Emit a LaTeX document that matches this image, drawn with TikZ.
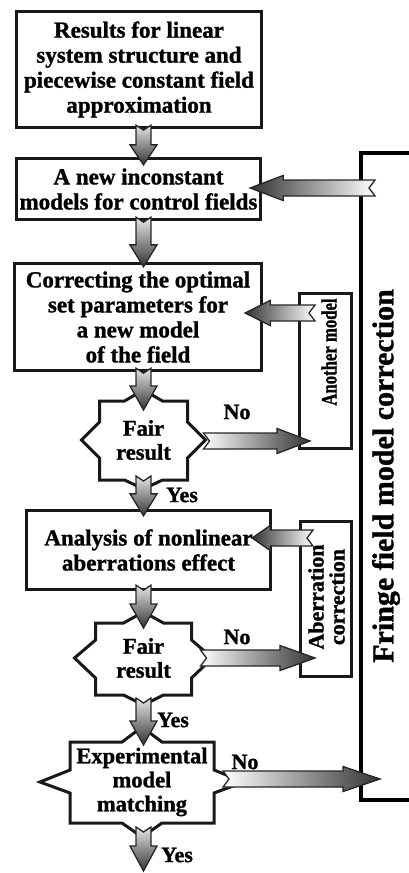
\documentclass[tikz,border=0pt]{standalone}
\usepackage{fontspec}
\setmainfont{Liberation Serif}[BoldFeatures={FakeBold=1.2}]
\usetikzlibrary{calc}
\definecolor{agdark}{gray}{0.2}
\definecolor{aglight}{gray}{0.9}
\tikzset{
 box/.style={draw=black!90, line width=3.3pt, inner sep=0pt, align=center, font=\bfseries\fontsize{23}{25}\selectfont},
 sidebox/.style={draw=black!90, line width=3pt, inner sep=0pt},
 dec/.style={draw=black!90, line width=3pt, line join=miter, fill=white},
 dtext/.style={align=center, inner sep=0pt, font=\bfseries\fontsize{22.5}{24}\selectfont},
 lbl/.style={inner sep=0pt, font=\bfseries\fontsize{22}{22}\selectfont},
 rtext/.style={rotate=90, align=center, inner sep=0pt},
 blk/.style={draw=black!85, line width=1.3pt, line join=miter},
 bracket/.style={draw=black, line width=3.2pt, line join=miter},
}
\newcommand{\darr}[3]{%
 \path[blk, top color=aglight, bottom color=agdark] let \p1=#1, \p2=#2 in
 (\x1-7.5pt,\y1) -- (\x1,\y1-5pt) -- (\x1+7.5pt,\y1) -- (\x1+7.5pt,\y2+#3) -- (\x1+13.5pt,\y2+#3)
 -- (\x1,\y2) -- (\x1-13.5pt,\y2+#3) -- (\x1-7.5pt,\y2+#3) -- cycle;}
\newcommand{\rarr}[3]{%
 \path[blk, left color=white, right color=agdark] let \p1=#1, \p2=#2 in
 (\x1,\y1+8pt) -- (\x1+6pt,\y1) -- (\x1,\y1-8pt) -- (\x2-#3,\y1-8pt) -- (\x2-#3,\y1-12.5pt)
 -- (\x2,\y1) -- (\x2-#3,\y1+12.5pt) -- (\x2-#3,\y1+8pt) -- cycle;}
\newcommand{\larr}[3]{%
 \path[blk, left color=agdark, right color=white] let \p1=#1, \p2=#2 in
 (\x1,\y1+8pt) -- (\x1-6pt,\y1) -- (\x1,\y1-8pt) -- (\x2+#3,\y1-8pt) -- (\x2+#3,\y1-12.5pt)
 -- (\x2,\y1) -- (\x2+#3,\y1+12.5pt) -- (\x2+#3,\y1+8pt) -- cycle;}
\begin{document}
\begin{tikzpicture}[x=1pt,y=-1pt]
\useasboundingbox (0,0) rectangle (409,873);
% boxes
\node[box, minimum width=245pt, minimum height=116pt] (b1) at (139,69.5) {Results for linear\\system structure and\\piecewise constant field\\approximation};
\node[box, minimum width=244pt, minimum height=61pt] (b2) at (138.5,189) {A new inconstant\\models for control fields};
\node[box, minimum width=247pt, minimum height=107pt] (b3) at (138,317) {Correcting the optimal\\set parameters for\\a new model\\of the field};
\node[box, minimum width=244pt, minimum height=79pt] (b4) at (148.5,550) {Analysis of nonlinear\\aberrations effect};
% side boxes
\node[sidebox, minimum width=52pt, minimum height=155pt] (am) at (325.5,371) {};
\node[rtext, font=\bfseries\fontsize{22}{22}\selectfont] (amt) at (329,352) {\scalebox{0.76}[1]{Another model}};
\node[sidebox, minimum width=51pt, minimum height=155pt] (ab) at (326,599) {};
\node[rtext, font=\bfseries\fontsize{22}{21}\selectfont] (abt) at (326.5,597) {Aberration\\correction};
% fringe bracket
\coordinate (fr1) at (409,153);
\coordinate (fr2) at (361,153);
\coordinate (fr3) at (361,800);
\coordinate (fr4) at (409,800);
\draw[bracket] (fr1) -- (fr2) -- (fr3) -- (fr4);
\node[rtext, font=\bfseries\fontsize{30}{32}\selectfont] (frt) at (386,476) {Fringe field model correction};
% decisions
\coordinate (f1c) at (143.5,440);
\draw[dec, shift={(f1c)}] (-62,0) -- (-44,-18) -- (-44,-39) -- (-19,-39) -- (0,-50) -- (19,-39) -- (44,-39) -- (44,-18) -- (62,0) -- (44,18) -- (44,40) -- (19,40) -- (0,49) -- (-19,40) -- (-44,40) -- (-44,18) -- cycle;
\node[dtext] (f1) at (f1c) {Fair\\result};
\coordinate (f2c) at (143.5,658);
\draw[dec, shift={(f2c)}] (-69,0) -- (-48,-18) -- (-48,-35) -- (-20,-35) -- (0,-46) -- (20,-35) -- (48,-35) -- (48,-18) -- (69,0) -- (48,20) -- (48,37) -- (20,37) -- (0,47) -- (-20,37) -- (-48,37) -- (-48,20) -- cycle;
\node[dtext] (f2) at (f2c) {Fair\\result};
\coordinate (exc) at (142,782);
\draw[dec, shift={(exc)}] (-102,0) -- (-72,-12) -- (-72,-40) -- (-20,-40) -- (0,-55) -- (20,-40) -- (72,-40) -- (72,-12) -- (102,0) -- (72,11) -- (72,41) -- (20,41) -- (0,55) -- (-20,41) -- (-72,41) -- (-72,11) -- cycle;
\node[dtext] (ex) at (exc) {Experimental\\model\\matching};
% vertical arrows
\darr{($(b1.south -| f1c)+(0,-4)$)}{($(b2.north -| f1c)+(0,8)$)}{20pt}
\darr{($(b2.south -| f1c)+(0,-4)$)}{($(b3.north -| f1c)+(0,5)$)}{22pt}
\darr{($(b3.south -| f1c)+(0,-4)$)}{($(f1c)+(0,-30)$)}{24pt}
\darr{($(f1c)+(0,36)$)}{($(b4.north -| f1c)+(0,7)$)}{22pt}
\darr{($(b4.south -| f1c)+(0,-6)$)}{($(f2c)+(0,-30)$)}{24pt}
\darr{($(f2c)+(0,40)$)}{($(exc -| f1c)+(0,-37)$)}{24pt}
\darr{($(exc -| f1c)+(0,45)$)}{($(exc -| f1c)+(0,89)$)}{25pt}
% horizontal arrows
\rarr{($(f1c)+(60,1)$)}{($(f1c -| am.west)+(12,1)$)}{33pt}
\larr{($(am.west |- b3.east)+(17,-4)$)}{($(b3.east)+(-18,-4)$)}{25pt}
\larr{($(fr2)+(14,35)$)}{($(b2.east)+(-12,-1)$)}{33pt}
\rarr{($(f2c)+(57,0)$)}{($(f2c -| ab.west)+(16,0)$)}{35pt}
\larr{($(ab.west |- b4.east)+(14,-12)$)}{($(b4.east)+(-20,-12)$)}{18pt}
\rarr{($(exc)+(81,-3)$)}{($(exc -| fr3)+(19,-3)$)}{37pt}
% labels
\node[lbl] (no1) at (237,412) {No};
\node[lbl] (yes1) at (182,495) {Yes};
\node[lbl] (no2) at (237,637) {No};
\node[lbl] (yes2) at (173,720) {Yes};
\node[lbl] (no3) at (245,762) {No};
\node[lbl] (yes3) at (177,855) {Yes};
\end{tikzpicture}
\end{document}
